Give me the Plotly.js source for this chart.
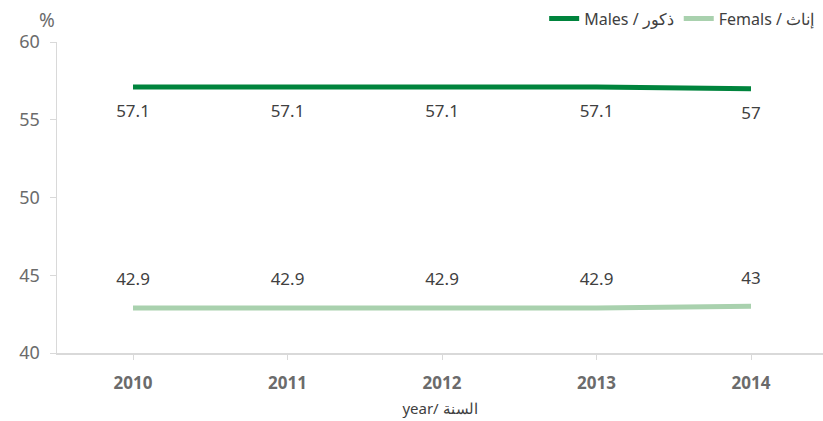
<!DOCTYPE html>
<html><head><meta charset="utf-8">
<script src="https://cdn.plot.ly/plotly-3.0.1.min.js"></script>
<style>html,body{margin:0;padding:0;background:#fff;}#chart{width:823px;height:421px;}</style>
</head><body><div id="chart"></div>
<script>
const years = ['2010', '2011', '2012', '2013', '2014'];
const males = [57.1, 57.1, 57.1, 57.1, 57];
const females = [42.9, 42.9, 42.9, 42.9, 43];
const malesName = 'Males / ذكور';
const femalesName = 'Femals / إناث';
const xTitle = 'year/ السنة';
const yUnit = '%';

const font = '"Noto Sans", "Open Sans", sans-serif';
const traces = [
  {x: years, y: males, name: malesName, type: 'scatter', mode: 'lines+markers+text',
   line: {color: '#00843D', width: 5, shape: 'spline', smoothing: 0.6},
   marker: {size: 26, color: 'rgba(0,0,0,0)'},
   text: males.map(String), textposition: 'bottom center',
   textfont: {family: font, size: 17, color: '#404040'}, hoverinfo: 'none'},
  {x: years, y: females, name: femalesName, type: 'scatter', mode: 'lines+markers+text',
   line: {color: '#A9D1AE', width: 5, shape: 'spline', smoothing: 0.6},
   marker: {size: 28, color: 'rgba(0,0,0,0)'},
   text: females.map(String), textposition: 'top center',
   textfont: {family: font, size: 17, color: '#404040'}, hoverinfo: 'none'}
];
const layout = {
  width: 823, height: 421,
  margin: {l: 57, r: 0, t: 42, b: 68},
  paper_bgcolor: '#fff', plot_bgcolor: '#fff',
  font: {family: font, color: '#595959'},
  showlegend: true,
  legend: {orientation: 'h', x: 0.995, xanchor: 'right', y: 1.075, yanchor: 'middle',
           font: {family: font, size: 16, color: '#404040'}, tracegroupgap: 0},
  xaxis: {type: 'category', range: [-0.492, 4.466], showline: true, linecolor: '#d9d9d9', linewidth: 1.5,
          ticks: 'outside', ticklen: 5, tickcolor: '#d9d9d9', showgrid: false, zeroline: false,
          ticklabelstandoff: 9, automargin: false,
          tickfont: {family: font, size: 17, color: '#6b6b6b', weight: 'bold'},
          title: {text: xTitle, font: {family: font, size: 15, color: '#404040'}, standoff: 10}},
  yaxis: {range: [40, 60], dtick: 5, showline: true, linecolor: '#d9d9d9', linewidth: 1.5,
          ticks: 'outside', ticklen: 6, tickcolor: '#d9d9d9', showgrid: false, zeroline: false,
          ticklabelstandoff: 6, automargin: false,
          tickfont: {family: font, size: 18, color: '#6b6b6b'}},
  annotations: [{text: yUnit, xref: 'paper', yref: 'paper', x: 0, y: 1, xanchor: 'center', yanchor: 'middle',
                 xshift: -10, yshift: 22,
                 showarrow: false, font: {family: font, size: 19, color: '#6b6b6b'}}]
};
Plotly.newPlot('chart', traces, layout, {displayModeBar: false, staticPlot: true});
</script></body></html>
